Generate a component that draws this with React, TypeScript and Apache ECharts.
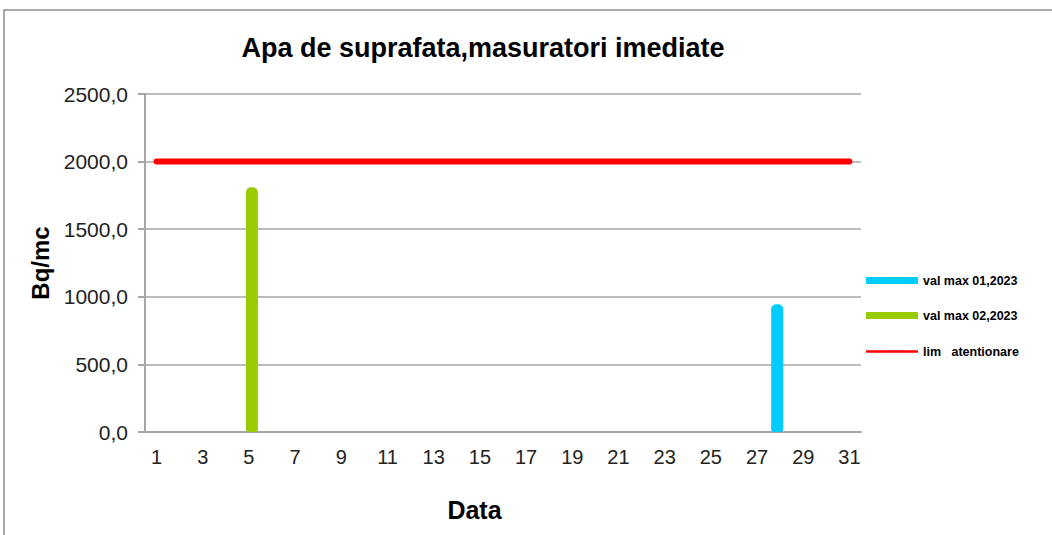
import React, { useEffect, useRef } from "react";
import * as echarts from "echarts";

const days: string[] = Array.from({ length: 31 }, (_, i) => String(i + 1));
const seriesNames = ["val max 01,2023", "val max 02,2023", "lim   atentionare"];
const valMax01: (number | null)[] = days.map((d) => (d === "28" ? 945 : null));
const valMax02: (number | null)[] = days.map((d) => (d === "5" ? 1810 : null));
const limAtentionare: number[] = days.map(() => 2000);

export default function App() {
  const ref = useRef<HTMLDivElement>(null);
  useEffect(() => {
    if (!ref.current) return;
    const chart = echarts.init(ref.current, undefined, { renderer: "svg" });
    const font = "'Liberation Sans', Arial, sans-serif";
    chart.setOption({
      animation: false,
      backgroundColor: "#ffffff",
      graphic: [
        {
          type: "rect",
          shape: { x: 4, y: 10, width: 1100, height: 600 },
          style: { fill: "none", stroke: "#8c8c8c", lineWidth: 1.5 },
          silent: true,
        },
      ],
      title: {
        text: "Apa de suprafata,masuratori imediate",
        left: 478,
        textAlign: "center",
        top: 29,
        textStyle: { fontFamily: font, fontSize: 27, fontWeight: "bold", color: "#000" },
      },
      legend: [
        {
          orient: "vertical",
          left: 861,
          top: 269,
          itemWidth: 52,
          itemHeight: 7,
          itemGap: 22,
          icon: "rect",
          data: [seriesNames[0], seriesNames[1]],
          textStyle: { fontFamily: font, fontSize: 12.5, fontWeight: "bold", color: "#000" },
        },
        {
          orient: "vertical",
          left: 861,
          top: 340,
          itemWidth: 52,
          itemHeight: 2.5,
          icon: "rect",
          data: [seriesNames[2]],
          textStyle: { fontFamily: font, fontSize: 12.5, fontWeight: "bold", color: "#000" },
        },
      ],
      grid: { left: 145, right: 191, top: 94, bottom: 103, containLabel: false },
      xAxis: {
        type: "category",
        data: days,
        boundaryGap: true,
        name: "Data",
        nameLocation: "middle",
        nameGap: 65,
        nameTextStyle: {
          fontFamily: font,
          fontSize: 25,
          fontWeight: "bold",
          color: "#000",
          padding: [0, 57, 0, 0],
        },
        axisLine: { lineStyle: { color: "#a6a6a6", width: 2 } },
        axisTick: { show: false },
        axisLabel: { interval: 1, margin: 15, fontFamily: font, fontSize: 20, color: "#222" },
      },
      yAxis: {
        type: "value",
        min: 0,
        max: 2500,
        interval: 500,
        name: "Bq/mc",
        nameLocation: "middle",
        nameGap: 90,
        nameTextStyle: { fontFamily: font, fontSize: 24, fontWeight: "bold", color: "#000" },
        axisLine: { show: true, lineStyle: { color: "#a6a6a6", width: 2 } },
        axisTick: { show: true, length: 7, lineStyle: { color: "#a6a6a6", width: 2 } },
        splitLine: { lineStyle: { color: "#a6a6a6", width: 1.5 } },
        axisLabel: {
          margin: 17,
          fontFamily: font,
          fontSize: 21,
          color: "#222",
          formatter: (v: number) => v.toFixed(1).replace(".", ","),
        },
      },
      series: [
        {
          name: seriesNames[0],
          type: "bar",
          data: valMax01,
          barWidth: 12,
          barGap: "-50%",
          itemStyle: { color: "#00ccff", borderRadius: [5, 5, 3, 3] },
        },
        {
          name: seriesNames[1],
          type: "bar",
          data: valMax02,
          barWidth: 12,
          barGap: "-50%",
          itemStyle: { color: "#99cc00", borderRadius: [5, 5, 3, 3] },
        },
        {
          name: seriesNames[2],
          type: "line",
          data: limAtentionare,
          symbol: "none",
          itemStyle: { color: "#ff0000" },
          lineStyle: { color: "#ff0000", width: 6, cap: "round" },
          z: 3,
        },
      ],
    });
    return () => chart.dispose();
  }, []);
  return (
    <div
      ref={ref}
      style={{ position: "absolute", left: 0, top: 0, width: 1052, height: 535 }}
    />
  );
}
